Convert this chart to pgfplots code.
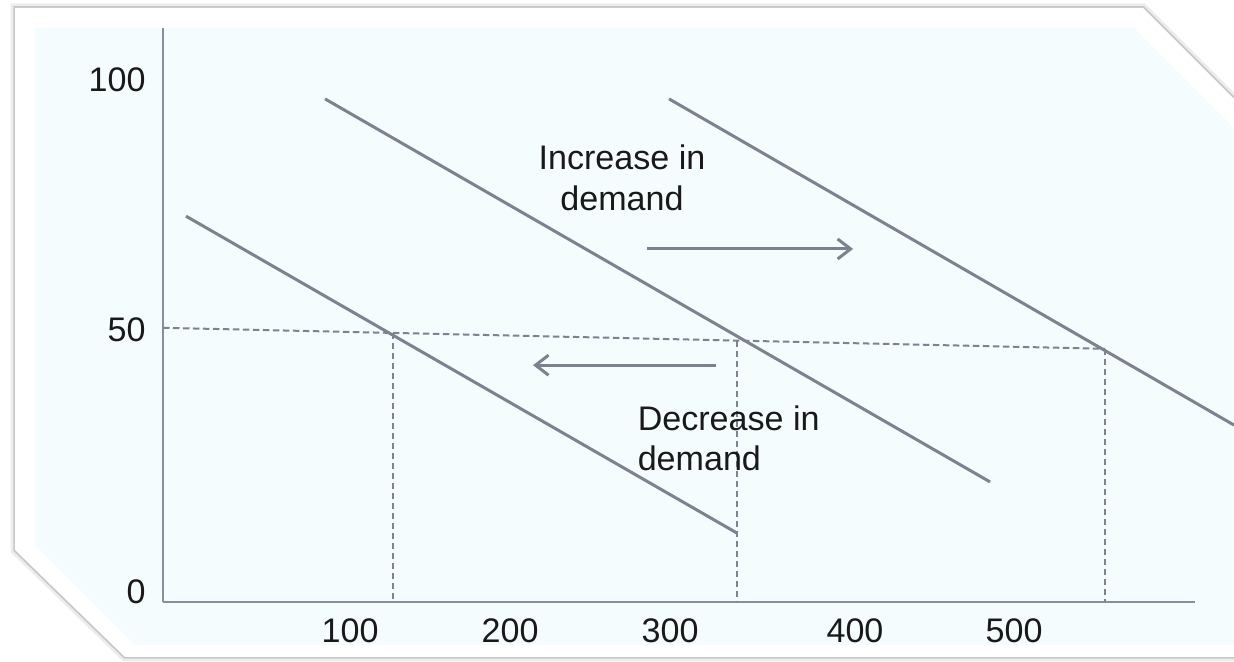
\documentclass[border=0pt]{standalone}
\usepackage{pgfplots}
\pgfplotsset{compat=1.18}
\usepackage{fontspec}
\setmainfont{Liberation Sans}
\usetikzlibrary{arrows.meta}
\definecolor{bgcyan}{RGB}{244,252,254}
\definecolor{linegray}{RGB}{124,130,142}
\definecolor{axisgray}{RGB}{136,144,158}
\newcommand{\lblfont}{\fontsize{9.7}{11.4}\selectfont}

\begin{document}
\begin{tikzpicture}
\useasboundingbox (0,0) rectangle (123.4mm,66.2mm);
% frame, in pixel units of the 1234x662 picture
\begin{scope}[x=0.1mm,y=-0.1mm,shift={(0,66.2mm)}]
  \fill[white] (0,0) rectangle (1234,662);
  \draw[black!7, line width=0.9mm, line join=miter] (15,8) -- (1143,8) -- (1234,99) -- (1234,657) -- (125,657) -- (15,550) -- cycle;
  \draw[black!22, line width=0.35mm, line join=miter] (15,8) -- (1143,8) -- (1234,99) -- (1234,657) -- (125,657) -- (15,550) -- cycle;
  \fill[white] (15,8) -- (1143,8) -- (1234,99) -- (1234,657) -- (125,657) -- (15,550) -- cycle;
  \fill[bgcyan] (35,28) -- (1134,28) -- (1234,128) -- (1234,645) -- (135,645) -- (35,545) -- cycle;
\end{scope}

\begin{axis}[
  at={(16.3mm,6.0mm)}, anchor=south west,
  scale only axis, width=103.2mm, height=57.4mm,
  xmin=-16.9, xmax=628.1, ymin=-1.95, ymax=110.16,
  axis lines*=left,
  axis line style={axisgray, line width=0.25mm},
  xtick={100,200,300,415.6,515}, xticklabels={100,200,300,400,500},
  ytick={0,51.2,100}, yticklabels={0,50,100},
  major tick length=0pt,
  ticklabel style={font=\lblfont, text=black!90},
  xticklabel style={yshift=-0.4mm},
  yticklabel style={xshift=-0.5mm},
  /pgf/number format/assume math mode=true,
  clip=false,
]
  % demand curves
  \addplot[linegray, line width=0.3mm] coordinates {(-2.5,73.4) (341.9,11.5)};
  \addplot[linegray, line width=0.3mm] coordinates {(84.4,96.3) (500,21.5)};
  \addplot[linegray, line width=0.3mm] coordinates {(299.4,96.3) (652.5,32.6)};
  % price and quantity guides
  \addplot[linegray, line width=0.2mm, dash pattern=on 0.65mm off 0.35mm] coordinates {(-16.9,51.6) (571.9,47.5)};
  \addplot[linegray, line width=0.2mm, dash pattern=on 0.65mm off 0.35mm] coordinates {(126.9,50.6) (126.9,-1.95)};
  \addplot[linegray, line width=0.2mm, dash pattern=on 0.65mm off 0.35mm] coordinates {(341.9,49.1) (341.9,-1.95)};
  \addplot[linegray, line width=0.2mm, dash pattern=on 0.65mm off 0.35mm] coordinates {(571.9,47.5) (571.9,-1.95)};
  % shift arrows
  \addplot[linegray, line width=0.3mm, -{Straight Barb[length=1.3mm,width=2mm]}] coordinates {(285.6,67) (414.4,67)};
  \addplot[linegray, line width=0.3mm, -{Straight Barb[length=1.3mm,width=2mm]}] coordinates {(328.75,44.3) (214.4,44.3)};

  \node[align=center, font=\lblfont, text=black!90] at (axis cs:270,80.9) {Increase in\\demand};
  \node[align=left, anchor=west, inner sep=0pt, font=\lblfont, text=black!90] at (axis cs:279.4,30.1) {Decrease in\\demand};
\end{axis}
\end{tikzpicture}
\end{document}
